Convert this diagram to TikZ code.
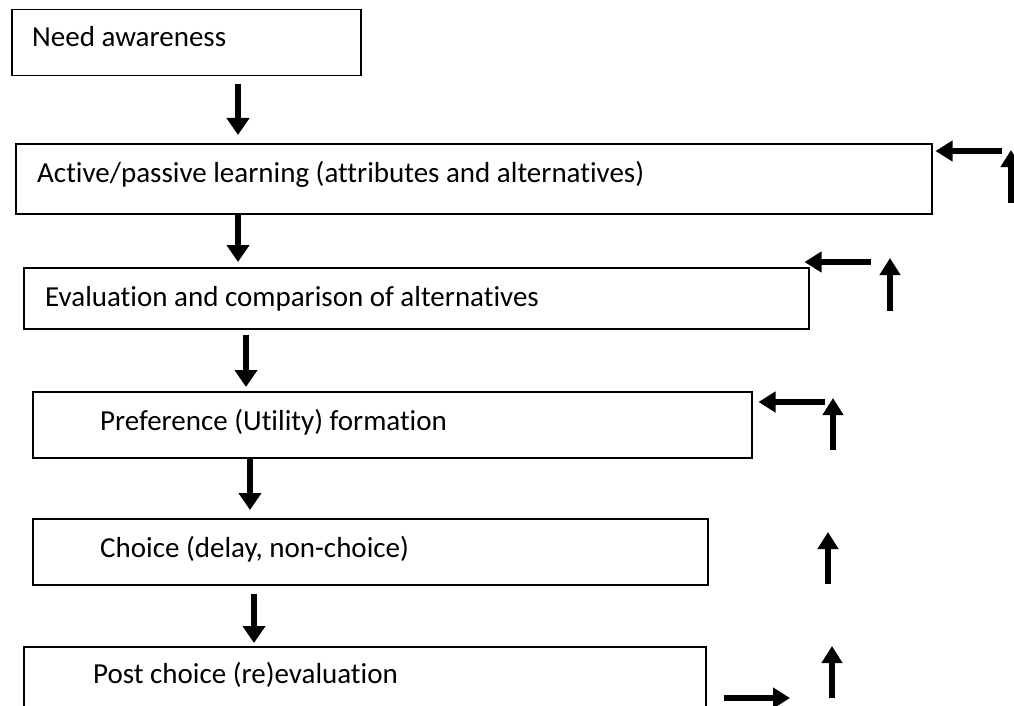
\documentclass[tikz,border=0pt]{standalone}
\usepackage{fontspec}
\setmainfont{Carlito}[Ligatures=NoCommon]
\usetikzlibrary{arrows.meta,calc}
\begin{document}
\begin{tikzpicture}[x=1pt,y=-1pt,
 box/.style={draw=black, line width=1.5pt, rectangle, inner sep=0pt, anchor=north west},
 txt/.style={anchor=base west, inner sep=0pt, font=\fontsize{29}{34}\selectfont},
 arr/.style={line width=6pt, -{Triangle[width=22pt,length=17pt]}},
 arrs/.style={line width=5.5pt, -{Triangle[width=20pt,length=17pt]}},
]
\clip (0,0) rectangle (1014,706);
\useasboundingbox (0,0) rectangle (1014,706);

% boxes
\node[box, minimum width=349pt, minimum height=66pt] (b1) at (11,9) {};
\node[box, minimum width=916pt, minimum height=70pt] (b2) at (15,143) {};
\node[box, minimum width=785pt, minimum height=61pt] (b3) at (23,267) {};
\node[box, minimum width=719pt, minimum height=66pt] (b4) at (32,391) {};
\node[box, minimum width=675pt, minimum height=66pt] (b5) at (32,518) {};
\node[box, minimum width=682pt, minimum height=80pt] (b6) at (23,646) {};

% texts
\node[txt] (t1) at (32,47) {Need awareness};
\node[txt] (t2) at (37,182) {Active/passive learning (attributes and alternatives)};
\node[txt] (t3) at (45,306) {Evaluation and comparison of alternatives};
\node[txt] (t4) at (100,430) {Preference (Utility) formation};
\node[txt] (t5) at (100,557) {Choice (delay, non-choice)};
\node[txt] (t6) at (93,683) {Post choice (re)evaluation};

% down arrows
\draw[arr] ($(b1.south west)+(227,8)$) -- ($(b2.north west)+(223,-8)$);
\draw[arr] ($(b2.south west)+(223,0)$) -- ($(b3.north west)+(215,-5)$);
\draw[arr] ($(b3.south west)+(223,5)$) -- ($(b4.north west)+(214,-4)$);
\draw[arr] ($(b4.south west)+(218,0)$) -- ($(b5.north west)+(218,-8)$);
\draw[arr] ($(b5.south west)+(222,8)$) -- ($(b6.north west)+(231,-3)$);

% feedback arrows
\coordinate (l2s) at (1002,151);
\coordinate (u2s) at (1011,203);
\coordinate (u2e) at (1011,150);
\coordinate (l3s) at (871,262);
\coordinate (u3s) at (890,311);
\coordinate (u3e) at (890,258);
\coordinate (l4s) at (825,402);
\coordinate (u4s) at (833,450);
\coordinate (u4e) at (833,398);
\coordinate (u5s) at (828,584);
\coordinate (u5e) at (828,532);
\coordinate (u6s) at (832,698);
\coordinate (u6e) at (832,646);
\coordinate (r6e) at (790,698);

\draw[arrs] (l2s) -- ($(b2.north east)+(3,8)$);
\draw[arrs] (u2s) -- (u2e);
\draw[arrs] (l3s) -- ($(b3.north east)+(-5,-5)$);
\draw[arrs] (u3s) -- (u3e);
\draw[arrs] (l4s) -- ($(b4.north east)+(6,11)$);
\draw[arrs] (u4s) -- (u4e);
\draw[arrs] (u5s) -- (u5e);
\draw[arrs] (u6s) -- (u6e);
\draw[arrs] ($(b6.north east)+(17,52)$) -- (r6e);
\end{tikzpicture}
\end{document}
